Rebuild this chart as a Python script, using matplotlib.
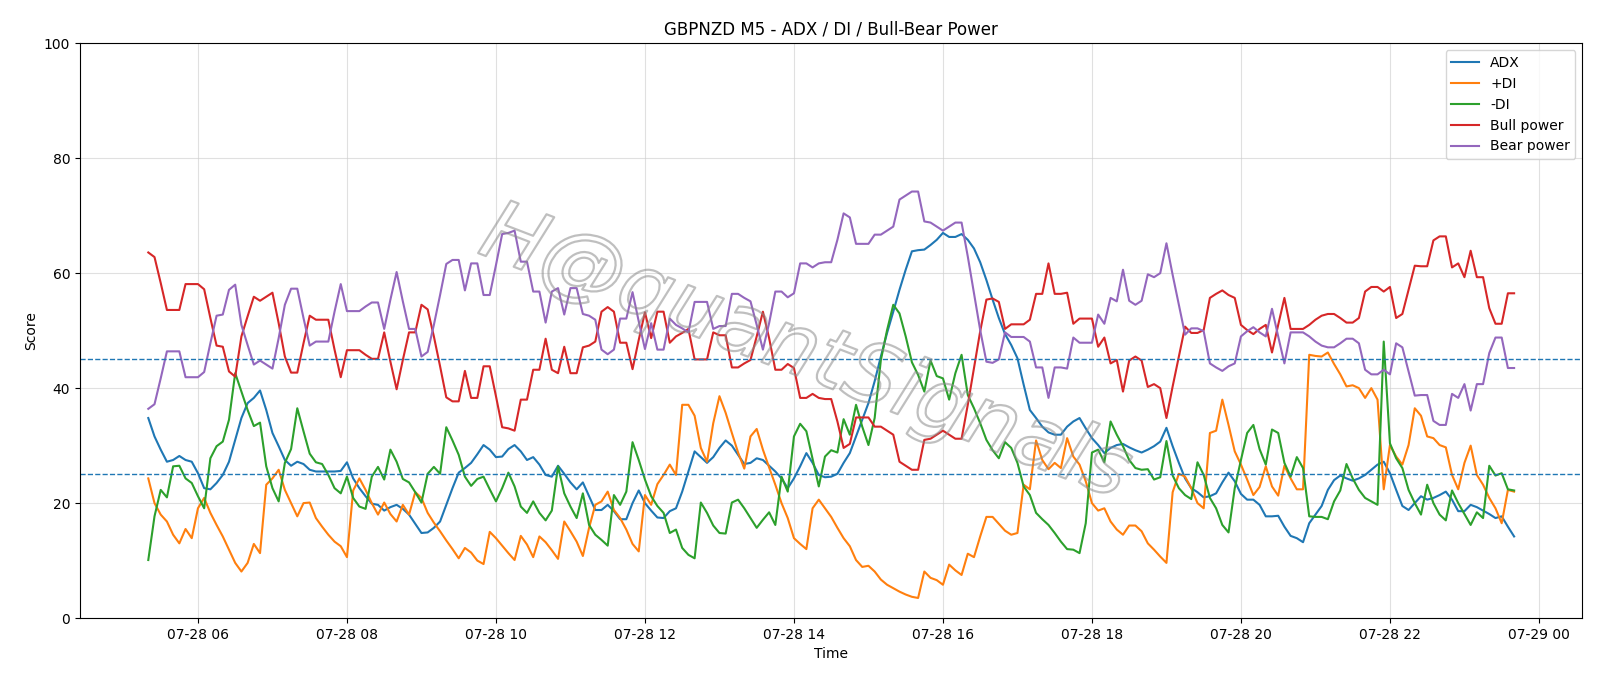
import matplotlib
matplotlib.use("Agg")
import matplotlib.pyplot as plt
import matplotlib.dates as mdates
import matplotlib.patheffects as pe
import pandas as pd

start_time = "2025-07-28 05:20"
step = "5min"

adx = [34.8, 31.6, 29.3, 27.2, 27.5, 28.2, 27.5, 27.2, 25.2, 22.6,
       22.4, 23.5, 24.9, 27.2, 31.0, 34.8, 37.4, 38.3, 39.6, 36.2,
       32.2, 29.9, 27.5, 26.5, 27.2, 26.8, 25.8, 25.5, 25.5, 25.5,
       25.5, 25.6, 27.1, 24.3, 22.6, 21.2, 19.9, 19.7, 18.7, 19.3,
       19.7, 19.0, 18.0, 16.4, 14.8, 14.9, 15.7, 16.8, 19.7, 22.6,
       25.3, 26.1, 27.0, 28.5, 30.1, 29.3, 28.0, 28.1, 29.4, 30.1,
       29.0, 27.5, 28.0, 26.7, 24.9, 24.6, 26.5, 25.1, 23.6, 22.4,
       23.6, 21.2, 18.8, 18.8, 19.7, 18.6, 17.2, 17.2, 20.0, 22.2,
       20.0, 18.7, 17.5, 17.4, 18.6, 19.1, 22.0, 25.5, 29.0, 28.0,
       27.0, 28.0, 29.6, 30.9, 30.0, 28.4, 26.8, 27.0, 27.8, 27.5,
       26.5, 25.5, 24.3, 22.6, 24.3, 26.4, 28.7, 27.0, 24.9, 24.5,
       24.6, 25.1, 27.0, 28.7, 31.6, 34.5, 37.4, 41.2, 45.5, 49.6,
       53.3, 57.1, 60.6, 63.8, 64.0, 64.1, 64.9, 65.8, 67.0, 66.3,
       66.3, 66.8, 65.8, 64.3, 61.9, 58.8, 55.4, 52.2, 49.4, 47.5,
       45.2, 40.6, 36.2, 34.8, 33.3, 32.3, 31.9, 31.9, 33.3, 34.2,
       34.8, 33.0, 31.3, 30.1, 28.7, 29.6, 30.1, 30.3, 29.7, 29.2,
       28.8, 29.3, 29.9, 30.7, 33.1, 29.9, 27.0, 24.3, 22.6, 21.9,
       21.0, 21.2, 21.7, 23.6, 25.3, 23.8, 21.6, 20.6, 20.6, 19.7,
       17.7, 17.7, 17.8, 15.9, 14.3, 13.9, 13.2, 16.5, 18.0, 19.5,
       22.3, 24.0, 24.8, 24.3, 23.9, 24.3, 24.9, 25.8, 26.7, 27.2,
       25.2, 22.3, 19.5, 18.8, 20.0, 21.2, 20.6, 20.9, 21.4, 22.0,
       20.6, 18.6, 18.6, 19.7, 19.3, 18.7, 18.1, 17.4, 17.7, 15.9,
       14.2]

plus_di = [24.3, 20.0, 18.0, 16.8, 14.5, 13.0, 15.5, 13.9, 19.1, 20.9,
           18.3, 16.2, 14.2, 11.9, 9.6, 8.1, 9.6, 12.9, 11.3, 23.2,
           24.3, 25.8, 22.3, 20.0, 17.7, 20.0, 20.1, 17.4, 15.9, 14.5,
           13.3, 12.5, 10.6, 22.2, 24.3, 22.3, 20.0, 18.0, 20.1, 18.1,
           16.8, 19.7, 18.0, 21.9, 20.9, 18.3, 16.6, 15.1, 13.5, 12.0,
           10.4, 12.2, 11.4, 10.0, 9.4, 15.0, 13.9, 12.6, 11.3, 10.1,
           14.3, 12.8, 10.6, 14.2, 13.2, 11.8, 10.3, 16.8, 15.1, 13.3,
           10.8, 15.7, 19.7, 20.3, 22.0, 18.8, 17.4, 15.4, 12.9, 11.6,
           21.4, 19.7, 23.3, 24.9, 26.7, 24.9, 37.1, 37.1, 35.2, 29.6,
           27.2, 33.9, 38.6, 35.7, 32.2, 28.8, 26.0, 31.6, 32.9, 29.3,
           26.2, 23.2, 20.0, 17.4, 13.9, 12.9, 12.0, 19.1, 20.6, 19.1,
           17.6, 15.7, 13.9, 12.5, 10.1, 8.9, 9.1, 8.1, 6.7, 5.8,
           5.2, 4.6, 4.1, 3.7, 3.5, 8.1, 7.0, 6.6, 5.8, 9.3,
           8.3, 7.5, 11.2, 10.6, 14.2, 17.6, 17.6, 16.4, 15.2, 14.5,
           14.8, 23.2, 22.4, 30.9, 27.5, 25.9, 27.0, 26.1, 31.3, 28.1,
           26.7, 23.8, 20.0, 18.7, 19.1, 16.8, 15.4, 14.5, 16.1, 16.1,
           15.1, 13.0, 11.9, 10.7, 9.6, 21.9, 25.1, 24.6, 22.6, 20.0,
           19.1, 32.2, 32.6, 38.0, 33.6, 29.0, 26.7, 24.1, 21.4, 22.8,
           26.4, 22.9, 21.3, 26.5, 24.3, 22.4, 22.4, 45.8, 45.6, 45.5,
           46.2, 44.2, 42.4, 40.3, 40.5, 40.0, 38.3, 40.0, 38.0, 22.4,
           30.1, 28.1, 26.7, 30.1, 36.5, 35.2, 31.6, 31.3, 30.1, 29.7,
           24.9, 22.4, 27.0, 30.0, 24.9, 23.2, 20.9, 19.1, 16.5, 22.3,
           22.0]

minus_di = [10.1, 17.7, 22.3, 21.0, 26.4, 26.5, 24.3, 23.5, 21.2, 19.1,
            27.8, 29.9, 30.7, 34.5, 42.6, 39.4, 36.2, 33.4, 34.0, 26.4,
            22.6, 20.3, 27.0, 29.4, 36.5, 32.5, 28.6, 27.1, 26.8, 24.9,
            22.6, 21.7, 24.6, 20.9, 19.4, 19.0, 24.6, 26.3, 24.1, 29.3,
            27.2, 24.2, 23.6, 21.9, 20.1, 25.1, 26.3, 25.1, 33.2, 30.9,
            28.4, 24.6, 23.0, 24.2, 24.6, 22.4, 20.3, 22.6, 25.3, 22.9,
            19.4, 18.3, 20.3, 18.3, 17.0, 18.7, 26.4, 21.7, 19.4, 17.4,
            21.7, 16.2, 14.5, 13.6, 12.6, 21.4, 19.7, 22.0, 30.6, 27.5,
            24.1, 21.2, 19.5, 18.3, 14.8, 15.4, 12.2, 11.0, 10.4, 20.1,
            18.3, 16.1, 14.8, 14.7, 20.1, 20.6, 19.1, 17.4, 15.7, 17.1,
            18.4, 16.2, 24.6, 22.0, 31.6, 33.8, 32.5, 27.7, 22.9, 28.1,
            29.2, 28.8, 34.6, 31.9, 37.1, 33.3, 30.1, 34.8, 44.9, 50.1,
            54.5, 53.0, 49.0, 44.5, 42.3, 39.4, 44.8, 42.1, 41.7, 38.0,
            42.6, 45.8, 38.8, 36.5, 33.9, 31.0, 29.2, 27.8, 30.6, 29.6,
            27.0, 22.9, 21.4, 18.3, 17.2, 16.2, 14.8, 13.3, 12.0, 11.9,
            11.3, 16.5, 28.8, 29.3, 27.1, 34.2, 31.9, 29.9, 27.5, 26.1,
            25.8, 25.9, 24.1, 24.5, 30.8, 24.8, 22.6, 21.4, 20.7, 27.1,
            24.9, 20.9, 19.1, 16.2, 14.9, 22.6, 27.5, 32.2, 33.6, 29.4,
            26.7, 32.8, 32.2, 27.0, 24.6, 28.0, 26.1, 17.7, 17.6, 17.6,
            17.2, 20.3, 22.2, 26.8, 24.3, 22.3, 20.9, 20.3, 19.7, 48.1,
            30.4, 27.8, 26.1, 22.3, 20.0, 18.0, 23.2, 20.0, 18.0, 17.0,
            22.2, 20.0, 18.1, 16.2, 18.4, 17.4, 26.5, 24.8, 25.2, 22.4,
            22.2]

bull_power = [63.6, 62.8, 58.3, 53.6, 53.6, 53.6, 58.1, 58.1, 58.1, 57.2,
              52.2, 47.4, 47.2, 42.9, 42.0, 49.0, 52.5, 55.9, 55.2, 55.9,
              56.6, 51.3, 45.5, 42.7, 42.7, 47.8, 52.6, 51.9, 51.9, 51.9,
              46.7, 41.9, 46.6, 46.6, 46.6, 45.8, 45.1, 45.1, 49.7, 44.6,
              39.8, 44.9, 49.7, 49.7, 54.5, 53.7, 49.0, 43.8, 38.4, 37.7,
              37.7, 43.0, 38.3, 38.3, 43.8, 43.8, 38.6, 33.2, 33.0, 32.6,
              38.0, 38.0, 43.2, 43.2, 48.6, 43.2, 42.6, 47.2, 42.6, 42.6,
              47.1, 47.4, 48.1, 53.3, 54.1, 53.3, 47.9, 47.9, 43.3, 48.4,
              53.2, 48.7, 53.3, 53.3, 47.9, 49.0, 49.6, 50.3, 45.0, 45.0,
              45.0, 49.7, 49.2, 49.2, 43.6, 43.6, 44.3, 44.9, 49.0, 53.3,
              48.7, 43.2, 43.2, 44.2, 43.5, 38.3, 38.3, 39.0, 38.3, 38.1,
              38.1, 34.2, 29.6, 30.3, 34.9, 34.9, 34.9, 33.3, 33.3, 32.6,
              31.9, 27.2, 26.5, 25.8, 25.8, 31.0, 31.2, 31.9, 32.6, 31.9,
              31.2, 31.2, 37.1, 43.5, 49.9, 55.4, 55.6, 55.0, 50.3, 51.1,
              51.1, 51.1, 51.9, 56.4, 56.4, 61.7, 56.4, 56.4, 56.6, 51.2,
              52.1, 52.1, 52.1, 47.2, 48.8, 44.3, 44.9, 39.4, 44.8, 45.5,
              44.8, 40.2, 40.7, 40.0, 34.8, 40.3, 45.5, 50.7, 49.6, 49.6,
              50.1, 55.7, 56.4, 57.0, 56.2, 55.7, 51.0, 50.1, 49.4, 50.3,
              51.0, 46.2, 51.0, 55.7, 50.3, 50.3, 50.3, 51.0, 51.9, 52.6,
              52.9, 52.9, 52.2, 51.4, 51.4, 52.2, 56.8, 57.6, 57.6, 56.8,
              57.6, 52.2, 52.9, 57.1, 61.3, 61.2, 61.2, 65.7, 66.4, 66.4,
              61.0, 61.7, 59.3, 63.9, 59.3, 59.3, 53.9, 51.2, 51.2, 56.5,
              56.5]

bear_power = [36.4, 37.2, 41.7, 46.4, 46.4, 46.4, 41.9, 41.9, 41.9, 42.8,
              47.8, 52.6, 52.8, 57.1, 58.0, 51.0, 47.5, 44.1, 44.8, 44.1,
              43.4, 48.7, 54.5, 57.3, 57.3, 52.2, 47.4, 48.1, 48.1, 48.1,
              53.3, 58.1, 53.4, 53.4, 53.4, 54.2, 54.9, 54.9, 50.3, 55.4,
              60.2, 55.1, 50.3, 50.3, 45.5, 46.3, 51.0, 56.2, 61.6, 62.3,
              62.3, 57.0, 61.7, 61.7, 56.2, 56.2, 61.4, 66.8, 67.0, 67.4,
              62.0, 62.0, 56.8, 56.8, 51.4, 56.8, 57.4, 52.8, 57.4, 57.4,
              52.9, 52.6, 51.9, 46.7, 45.9, 46.7, 52.1, 52.1, 56.7, 51.6,
              46.8, 51.3, 46.7, 46.7, 52.1, 51.0, 50.4, 49.7, 55.0, 55.0,
              55.0, 50.3, 50.8, 50.8, 56.4, 56.4, 55.7, 55.1, 51.0, 46.7,
              51.3, 56.8, 56.8, 55.8, 56.5, 61.7, 61.7, 61.0, 61.7, 61.9,
              61.9, 65.8, 70.4, 69.7, 65.1, 65.1, 65.1, 66.7, 66.7, 67.4,
              68.1, 72.8, 73.5, 74.2, 74.2, 69.0, 68.8, 68.1, 67.4, 68.1,
              68.8, 68.8, 62.9, 56.5, 50.1, 44.6, 44.4, 45.0, 49.7, 48.9,
              48.9, 48.9, 48.1, 43.6, 43.6, 38.3, 43.6, 43.6, 43.4, 48.8,
              47.9, 47.9, 47.9, 52.8, 51.2, 55.7, 55.1, 60.6, 55.2, 54.5,
              55.2, 59.8, 59.3, 60.0, 65.2, 59.7, 54.5, 49.3, 50.4, 50.4,
              49.9, 44.3, 43.6, 43.0, 43.8, 44.3, 49.0, 49.9, 50.6, 49.7,
              49.0, 53.8, 49.0, 44.3, 49.7, 49.7, 49.7, 49.0, 48.1, 47.4,
              47.1, 47.1, 47.8, 48.6, 48.6, 47.8, 43.2, 42.4, 42.4, 43.2,
              42.4, 47.8, 47.1, 42.9, 38.7, 38.8, 38.8, 34.3, 33.6, 33.6,
              39.0, 38.3, 40.7, 36.1, 40.7, 40.7, 46.1, 48.8, 48.8, 43.5,
              43.5]

thresholds = [25, 45]
title = "GBPNZD M5 - ADX / DI / Bull-Bear Power"
watermark = "H@quantSignals"

times = pd.date_range(start_time, periods=len(adx), freq=step)

fig, ax = plt.subplots(figsize=(16, 6.86), dpi=100)
fig.subplots_adjust(left=0.05, right=0.989, top=0.937, bottom=0.099)

ax.plot(times, adx, color="#1f77b4", lw=1.5, label="ADX")
ax.plot(times, plus_di, color="#ff7f0e", lw=1.5, label="+DI")
ax.plot(times, minus_di, color="#2ca02c", lw=1.5, label="-DI")
ax.plot(times, bull_power, color="#d62728", lw=1.5, label="Bull power")
ax.plot(times, bear_power, color="#9467bd", lw=1.5, label="Bear power")

for t in thresholds:
    ax.axhline(t, color="#1f77b4", ls="--", lw=1.0)

ax.set_ylim(0, 100)
ax.xaxis.set_major_locator(mdates.HourLocator(byhour=range(0, 24, 2)))
ax.xaxis.set_major_formatter(mdates.DateFormatter("%m-%d %H"))
ax.grid(True, color="#cccccc", alpha=0.6, lw=0.8)
ax.set_title(title, fontsize=12)
ax.set_xlabel("Time")
ax.set_ylabel("Score")
ax.legend(loc="upper right", fontsize=10)

ax.text(0.483, 0.46, watermark, transform=ax.transAxes, fontsize=60,
        style="italic", color="none", rotation=-21,
        ha="center", va="center", zorder=10,
        path_effects=[pe.withStroke(linewidth=1.6,
                                    foreground=(0.55, 0.55, 0.55, 0.55))])

fig.savefig("out.png", dpi=100)
